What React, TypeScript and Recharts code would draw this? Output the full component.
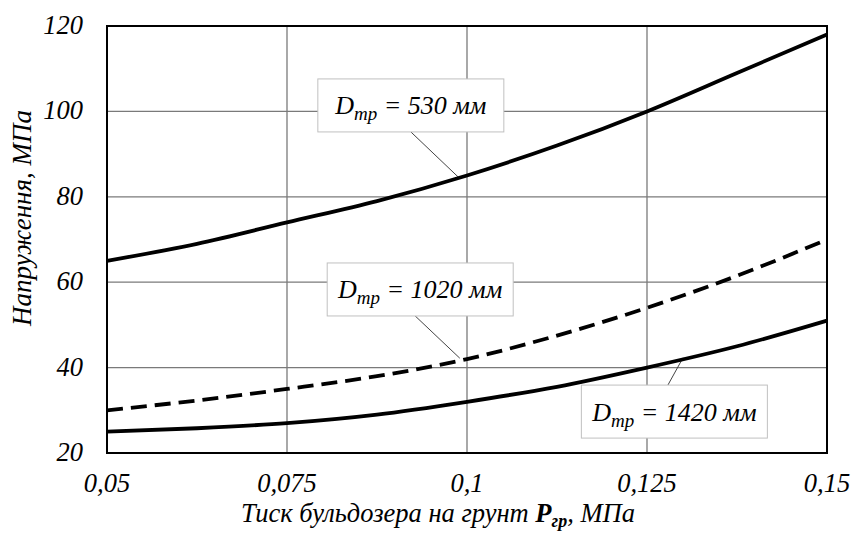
import {
  LineChart,
  Line,
  XAxis,
  YAxis,
  CartesianGrid,
  ReferenceLine,
  ReferenceDot,
  ReferenceArea,
} from 'recharts';

const pressure = [0.05, 0.0625, 0.075, 0.0875, 0.1, 0.1125, 0.125, 0.1375, 0.15];
const stress530 = [65, 69, 74, 79, 85, 92, 100, 109, 118];
const stress1020 = [30, 32.3, 35, 38, 42, 47.5, 54, 61.5, 70];
const stress1420 = [25, 25.8, 27, 29, 32, 35.5, 40, 45, 51];

const xTicks = [0.05, 0.075, 0.1, 0.125, 0.15];
const yTicks = [20, 40, 60, 80, 100, 120];

const labels = [
  { name: '530', x: 0.0922, y: 101.4, from: [0.0922, 95.2], to: [0.0988, 84.6] },
  { name: '1020', x: 0.0935, y: 58.3, from: [0.0928, 52.1], to: [0.099, 42.2] },
  { name: '1420', x: 0.1288, y: 29.7, from: [0.1279, 35.9], to: [0.13, 42.3] },
];

const data = pressure.map((p, i) => ({
  p,
  d530: stress530[i],
  d1020: stress1020[i],
  d1420: stress1420[i],
}));

const serif = 'Times New Roman';
const txt = { fontFamily: serif, fontStyle: 'italic' as const };

const fmt = (v: number) => String(v).replace('.', ',');

function LabelBox(props: any) {
  const { cx, cy, name } = props;
  const w = 186;
  const h = 53;
  return (
    <g>
      <rect x={cx - w / 2} y={cy - h / 2} width={w} height={h} fill="#fff" stroke="#c0c0c0" strokeWidth={1} />
      <text x={cx} y={cy + 9} textAnchor="middle" style={txt} fontSize={26} fill="#000">
        D<tspan fontSize={19} dy={6}>тр</tspan>
        <tspan dy={-6}>{` = ${name} мм`}</tspan>
      </text>
    </g>
  );
}

function XTick(props: any) {
  const { x, y, payload } = props;
  return (
    <text x={x} y={y + 16} textAnchor="middle" style={txt} fontSize={26.5} fill="#000">
      {fmt(payload.value)}
    </text>
  );
}

function YTick(props: any) {
  const { x, y, payload } = props;
  return (
    <text x={x} y={y + 8} textAnchor="end" style={txt} fontSize={26.5} fill="#000">
      {payload.value}
    </text>
  );
}

export default function App() {
  return (
    <div style={{ position: 'absolute', left: 0, top: 0, width: 854, height: 533, background: '#fff' }}>
      <LineChart width={854} height={533} data={data} margin={{ top: 26, right: 27, bottom: 30, left: 37 }}>
        <CartesianGrid stroke="#7a7a7a" strokeWidth={1.3} />
        <XAxis
          dataKey="p"
          type="number"
          domain={[0.05, 0.15]}
          ticks={xTicks}
          axisLine={false}
          tickLine={false}
          tickSize={0}
          tickMargin={23}
          height={50}
          tick={<XTick />}
          label={{
            content: () => (
              <text x={438} y={522} textAnchor="middle" style={txt} fontSize={26.5} fill="#000">
                Тиск бульдозера на грунт{' '}
                <tspan fontWeight="bold">P</tspan>
                <tspan fontWeight="bold" fontSize={18} dy={5}>гр</tspan>
                <tspan dy={-5}>, МПа</tspan>
              </text>
            ),
          }}
        />
        <YAxis
          type="number"
          domain={[20, 120]}
          ticks={yTicks}
          axisLine={false}
          tickLine={false}
          tickSize={0}
          tickMargin={24}
          width={70}
          tick={<YTick />}
          label={{
            content: () => (
              <text
                x={0}
                y={0}
                transform="translate(31, 218) rotate(-90)"
                textAnchor="middle"
                style={txt}
                fontSize={27}
                fill="#000"
              >
                Напруження, МПа
              </text>
            ),
          }}
        />
        <ReferenceArea x1={0.05} x2={0.15} y1={20} y2={120} fill="none" stroke="#000" strokeWidth={2} ifOverflow="visible" />
        {labels.map((l) => (
          <ReferenceLine
            key={`l${l.name}`}
            segment={[
              { x: l.from[0], y: l.from[1] },
              { x: l.to[0], y: l.to[1] },
            ]}
            stroke="#444"
            strokeWidth={1}
          />
        ))}
        {labels.map((l) => (
          <ReferenceDot key={`b${l.name}`} x={l.x} y={l.y} r={0} shape={(p: any) => <LabelBox {...p} name={l.name} />} />
        ))}
        <Line type="monotone" dataKey="d530" stroke="#000" strokeWidth={3.8} dot={false} isAnimationActive={false} />
        <Line
          type="monotone"
          dataKey="d1020"
          stroke="#000"
          strokeWidth={3.8}
          strokeDasharray="16 8"
          dot={false}
          isAnimationActive={false}
        />
        <Line type="monotone" dataKey="d1420" stroke="#000" strokeWidth={3.8} dot={false} isAnimationActive={false} />
      </LineChart>
    </div>
  );
}
